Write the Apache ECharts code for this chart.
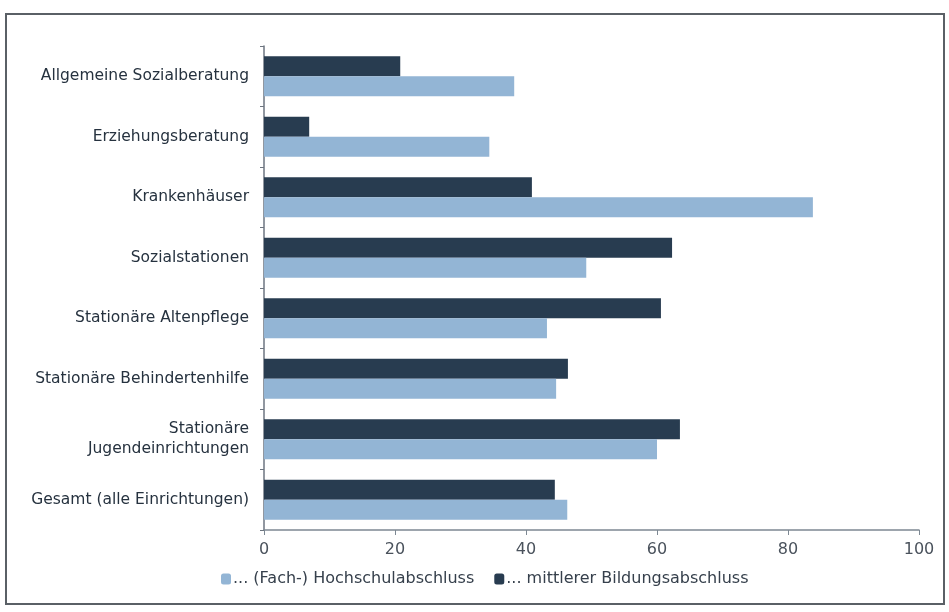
<!DOCTYPE html>
<html>
<head>
<meta charset="utf-8">
<script src="https://cdn.jsdelivr.net/npm/echarts@6/dist/echarts.min.js"></script>
<style>html,body{margin:0;padding:0;background:#fff}#c{width:949px;height:612px}</style>
</head>
<body>
<div id="c"></div>
<script>
const categories = [
  'Allgemeine Sozialberatung',
  'Erziehungsberatung',
  'Krankenhäuser',
  'Sozialstationen',
  'Stationäre Altenpflege',
  'Stationäre Behindertenhilfe',
  'Stationäre\nJugendeinrichtungen',
  'Gesamt (alle Einrichtungen)'
];
const hochschul = [38.2, 34.4, 83.8, 49.2, 43.2, 44.6, 60.0, 46.3];
const mittlerer = [20.8, 6.9, 40.9, 62.3, 60.6, 46.4, 63.5, 44.4];
const seriesNames = ['... (Fach-) Hochschulabschluss', '... mittlerer Bildungsabschluss'];
const xTicks = [0, 20, 40, 60, 80, 100];

const chart = echarts.init(document.getElementById('c'));
const font = '"DejaVu Sans", Arial, sans-serif';
chart.setOption({
  backgroundColor: '#ffffff',
  animation: false,
  grid: { left: 264, right: 30, top: 46, bottom: 82, containLabel: false },
  legend: {
    data: seriesNames,
    bottom: 20,
    left: 216,
    itemWidth: 10,
    itemHeight: 11,
    itemGap: 20,
    textStyle: { fontFamily: font, fontSize: 16, color: '#36404c', padding: [0, 0, 0, -3] }
  },
  xAxis: {
    type: 'value',
    min: xTicks[0],
    max: xTicks[xTicks.length - 1],
    interval: 20,
    axisLine: { show: true, lineStyle: { color: '#7d8893', width: 1.5 } },
    axisTick: { show: true, length: 5, lineStyle: { color: '#7d8893' } },
    splitLine: { show: false },
    axisLabel: { fontFamily: font, fontSize: 16, color: '#4a525c', margin: 12 }
  },
  yAxis: {
    type: 'category',
    data: categories,
    inverse: true,
    axisLine: { show: true, lineStyle: { color: '#6d7580', width: 1.5 } },
    axisTick: { show: true, length: 4, lineStyle: { color: '#6d7580' } },
    axisLabel: { fontFamily: font, fontSize: 15.5, color: '#26323f', margin: 15, lineHeight: 20, align: 'right' }
  },
  series: [
    {
      name: seriesNames[1],
      type: 'bar',
      data: mittlerer,
      barWidth: 20,
      barGap: '0%',
      itemStyle: { color: '#283c50' }
    },
    {
      name: seriesNames[0],
      type: 'bar',
      data: hochschul,
      barWidth: 20,
      barGap: '0%',
      itemStyle: { color: '#93b5d5' }
    }
  ],
  graphic: [{
    type: 'rect',
    shape: { x: 6, y: 14, width: 938, height: 590 },
    style: { fill: 'none', stroke: '#5a6066', lineWidth: 2 },
    silent: true,
    z: 100
  }]
});
</script>
</body>
</html>
